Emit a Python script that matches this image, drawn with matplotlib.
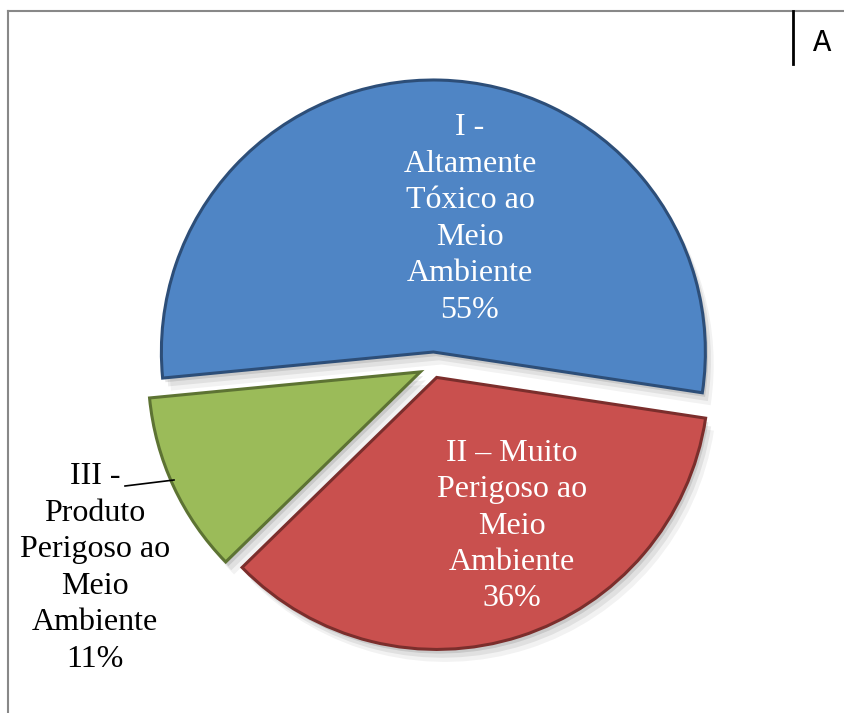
import matplotlib.pyplot as plt
from matplotlib.patches import Shadow

# dados do grafico
categorias = [
    "I -\nAltamente\nTóxico ao\nMeio\nAmbiente",
    "II – Muito\nPerigoso ao\nMeio\nAmbiente",
    "III -\nProduto\nPerigoso ao\nMeio\nAmbiente",
]
valores = [55, 36, 11]
cores = ["#4F85C5", "#C9504E", "#9BBB59"]
cores_borda = ["#2D4E78", "#7B2E2C", "#5D7333"]

# deslocamento das fatias (em pixels, pie usa unidade de dados)
explode = [14, 12, 14]

fig = plt.figure(figsize=(8.45, 7.13), dpi=100)
ax = fig.add_axes([0, 0, 1, 1])

wedges, _ = ax.pie(
    valores,
    explode=explode,
    colors=cores,
    startangle=185.5,
    counterclock=False,
    center=(433, 347),
    radius=272,
    wedgeprops=dict(linewidth=2.2),
)
for w, cb in zip(wedges, cores_borda):
    w.set_edgecolor(cb)
    w.set_zorder(3)
    # sombra suave
    for ox, oy, a in [(2, -3, 0.10), (4, -6, 0.07), (6, -9, 0.05)]:
        s = Shadow(w, ox, oy, facecolor="k", edgecolor="none", alpha=a)
        s.set_zorder(1)
        ax.add_patch(s)

ax.set_xlim(0, 845)
ax.set_ylim(0, 713)
ax.set_aspect("auto")
ax.axis("off")

# rotulos
pos_rotulos = [(470, 494), (512, 187), (95, 145)]
cor_texto = ["white", "white", "black"]
for nome, v, (x, y), c in zip(categorias, valores, pos_rotulos, cor_texto):
    ax.text(x, y, nome + "\n" + str(v) + "%", ha="center", va="center",
            fontsize=23, family="Liberation Serif", color=c, linespacing=1.34,
            zorder=5)

# linha de chamada do rotulo III
ax.plot([125, 174], [227, 233], color="black", lw=1.2, zorder=4)

# moldura
ax.plot([8, 845], [702, 702], color="#888888", lw=1.5, clip_on=False)
ax.plot([8, 8], [702, 0], color="#888888", lw=1.5, clip_on=False)
ax.plot([793, 793], [702, 649], color="black", lw=2, clip_on=False)
ax.text(822, 670, "A", ha="center", va="center", fontsize=22,
        family="Liberation Mono", color="black")

fig.savefig("out.png", dpi=100)
